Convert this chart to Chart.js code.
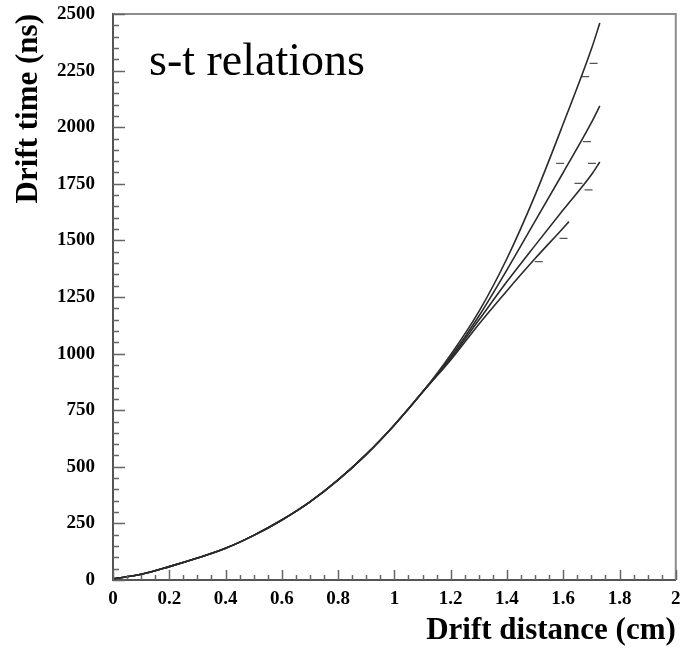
<!DOCTYPE html>
<html>
<head>
<meta charset="utf-8">
<title>s-t relations</title>
<script src="https://cdn.jsdelivr.net/npm/chart.js"></script>
<style>
  html, body { margin: 0; padding: 0; background: #fff; }
  #wrap { width: 681px; height: 650px; }
</style>
</head>
<body>
<div id="wrap"><canvas id="stChart" width="681" height="650"></canvas></div>
<script>
// drift distance (cm)
const distance = [0, 0.1, 0.2, 0.3, 0.4, 0.5, 0.6, 0.7, 0.8, 0.9, 1.0, 1.1, 1.2, 1.3, 1.4, 1.5, 1.6, 1.7, 1.73];
const distanceShort = [0, 0.1, 0.2, 0.3, 0.4, 0.5, 0.6, 0.7, 0.8, 0.9, 1.0, 1.1, 1.2, 1.3, 1.4, 1.5, 1.6, 1.62];

// drift time (ns) of the four fitted relations
const timeA = [5, 25, 59, 97, 140, 197, 265, 345, 442, 555, 685, 830, 995, 1185, 1420, 1700, 2015, 2345, 2460];
const timeB = [5, 25, 59, 97, 140, 197, 265, 345, 442, 555, 685, 830, 985, 1165, 1370, 1585, 1800, 2020, 2094];
const timeC = [5, 25, 59, 97, 140, 197, 265, 345, 442, 555, 685, 830, 978, 1148, 1318, 1478, 1635, 1790, 1846];
const timeD = [5, 25, 59, 97, 140, 197, 265, 345, 442, 555, 685, 830, 972, 1130, 1278, 1420, 1555, 1583];

// stray measured points near the ends of the curves
const markerX = [1.708, 1.678, 1.589, 1.684, 1.690, 1.702, 1.601, 1.654, 1.513];
const markerY = [2282, 2223, 1840, 1936, 1723, 1840, 1509, 1752, 1406];

const xTicks = [0, 0.2, 0.4, 0.6, 0.8, 1, 1.2, 1.4, 1.6, 1.8, 2];
const yTicks = [0, 250, 500, 750, 1000, 1250, 1500, 1750, 2000, 2250, 2500];

function toPoints(xs, ys) {
	return xs.map((x, i) => ({ x: x, y: ys[i] }));
}

function curve(xs, ys) {
	return {
		type: "line",
		data: toPoints(xs, ys),
		borderColor: "#2b2b2b",
		borderWidth: 1.6,
		pointRadius: 0,
		cubicInterpolationMode: "monotone",
		fill: false,
	};
}

const serif = '"Liberation Serif", "DejaVu Serif", serif';

// inward ticks, frame and the in-plot label
const framePlugin = {
	id: "frame",
	afterDraw(chart) {
		const ctx = chart.ctx;
		const area = chart.chartArea;
		const xs = chart.scales.x;
		const ys = chart.scales.y;
		ctx.save();
		ctx.strokeStyle = "#8c8c8c";
		ctx.lineWidth = 2;
		ctx.beginPath();
		ctx.moveTo(area.left, area.top);
		ctx.lineTo(area.right, area.top);
		ctx.lineTo(area.right, area.bottom);
		ctx.stroke();

		ctx.strokeStyle = "#666";
		ctx.lineWidth = 1.5;
		ctx.beginPath();
		for (let i = 0; i <= 50; i++) {
			const p = Math.round(ys.getPixelForValue(i * 50)) + 0.5;
			const len = i % 5 === 0 ? 12 : 6;
			ctx.moveTo(area.left, p);
			ctx.lineTo(area.left + len, p);
		}
		for (let i = 0; i <= 40; i++) {
			const p = Math.round(xs.getPixelForValue(i * 0.05)) + 0.5;
			const len = i % 4 === 0 ? 10 : 5;
			ctx.moveTo(p, area.bottom);
			ctx.lineTo(p, area.bottom - len);
		}
		ctx.stroke();

		ctx.fillStyle = "#000";
		ctx.font = "46px " + serif;
		ctx.textBaseline = "alphabetic";
		ctx.textAlign = "left";
		ctx.fillText("s-t relations", area.left + 36, 75);
		ctx.restore();
	},
};

new Chart(document.getElementById("stChart"), {
	type: "line",
	data: {
		datasets: [
			curve(distance, timeA),
			curve(distance, timeB),
			curve(distance, timeC),
			curve(distanceShort, timeD),
			{
				type: "scatter",
				data: toPoints(markerX, markerY),
				pointStyle: "line",
				pointRadius: 4,
				borderColor: "#555",
				borderWidth: 1.2,
				backgroundColor: "#555",
			},
		],
	},
	options: {
		responsive: false,
		animation: false,
		layout: { padding: { top: 14, right: 2, left: 0, bottom: 0 } },
		plugins: {
			legend: { display: false },
			tooltip: { enabled: false },
		},
		scales: {
			x: {
				type: "linear",
				min: 0,
				max: 2,
				afterFit(scale) {
					scale.height = 70;
					scale.paddingLeft = 0;
					scale.paddingRight = 0;
				},
				afterBuildTicks(scale) {
					scale.ticks = xTicks.map((v) => ({ value: v }));
				},
				grid: { display: false, drawTicks: false },
				border: { display: true, color: "#555", width: 2 },
				ticks: {
					padding: 8,
					maxRotation: 0,
					autoSkip: false,
					color: "#000",
					font: { family: serif, size: 19, weight: "bold" },
					callback: (v) => String(v),
				},
				title: {
					display: true,
					text: "Drift distance (cm)",
					align: "end",
					color: "#000",
					padding: { top: 0, bottom: 0 },
					font: { family: serif, size: 31, weight: "bold" },
				},
			},
			y: {
				type: "linear",
				min: 0,
				max: 2500,
				afterFit(scale) {
					scale.width = 113;
					scale.paddingTop = 0;
					scale.paddingBottom = 0;
				},
				afterBuildTicks(scale) {
					scale.ticks = yTicks.map((v) => ({ value: v }));
				},
				grid: { display: false, drawTicks: false },
				border: { display: true, color: "#555", width: 2 },
				ticks: {
					padding: 18,
					autoSkip: false,
					color: "#000",
					font: { family: serif, size: 19, weight: "bold" },
					callback: (v) => String(v),
				},
				title: {
					display: true,
					text: "Drift time (ns)",
					align: "end",
					color: "#000",
					padding: { top: 10, bottom: 0 },
					font: { family: serif, size: 31, weight: "bold" },
				},
			},
		},
	},
	plugins: [framePlugin],
});
</script>
</body>
</html>
